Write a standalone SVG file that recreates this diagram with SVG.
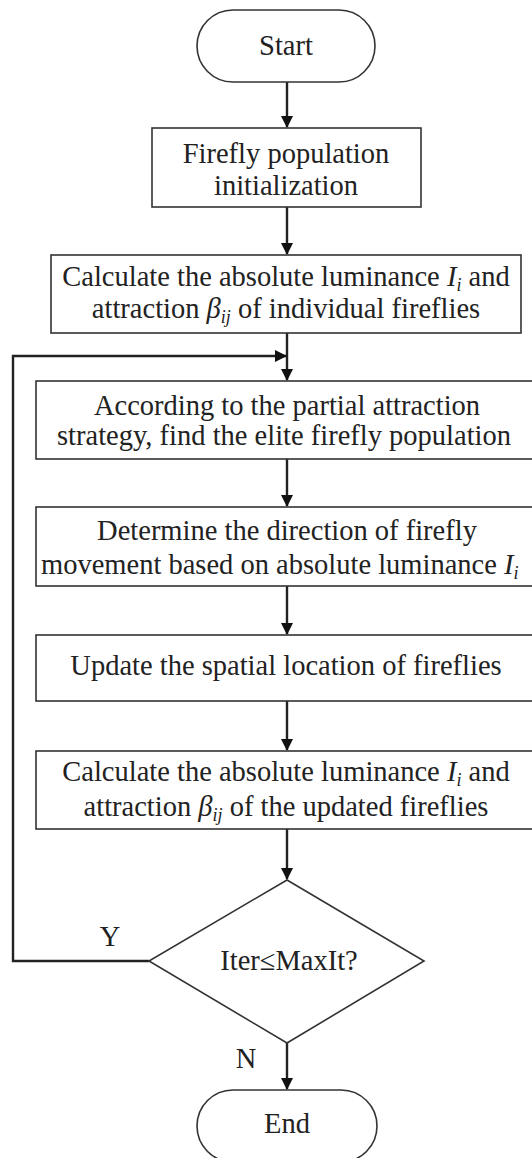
<svg xmlns="http://www.w3.org/2000/svg" width="532" height="1158" viewBox="0 0 532 1158">
<style>
.box{fill:#fff;stroke:#333;stroke-width:1.6}
text{font-family:'Liberation Serif','DejaVu Serif',serif}
.t{font-size:28.5px;fill:#222;text-anchor:middle}
.it{font-style:italic}
.sub{font-style:italic;font-size:18px}
.c{fill:none;stroke:#222;stroke-width:2.4}
</style>
<defs>
<marker id="ah" markerWidth="12" markerHeight="12" refX="11" refY="6" orient="auto" markerUnits="userSpaceOnUse">
<path d="M0,0 L12,6 L0,12 Z" fill="#111"/>
</marker>
</defs>
<rect width="532" height="1158" fill="#fff"/>
<g id="connectors">
<line class="c" x1="287" y1="82" x2="287" y2="127" marker-end="url(#ah)"/>
<line class="c" x1="287" y1="207" x2="287" y2="254" marker-end="url(#ah)"/>
<line class="c" x1="287" y1="333" x2="287" y2="380" marker-end="url(#ah)"/>
<polyline class="c" points="149,961 13,961 13,356 286,356" marker-end="url(#ah)"/>
<line class="c" x1="287" y1="459" x2="287" y2="506" marker-end="url(#ah)"/>
<line class="c" x1="287" y1="586" x2="287" y2="634" marker-end="url(#ah)"/>
<line class="c" x1="287" y1="701" x2="287" y2="750" marker-end="url(#ah)"/>
<line class="c" x1="287" y1="829" x2="287" y2="879" marker-end="url(#ah)"/>
<line class="c" x1="287" y1="1043" x2="287" y2="1089" marker-end="url(#ah)"/>
<text class="t" x="110" y="946" font-size="27">Y</text>
<text class="t" x="246" y="1068" font-size="27">N</text>
</g>
<g id="start">
<rect class="box" x="197" y="10" width="178" height="72" rx="36"/>
<text class="t" x="286" y="55">Start</text>
</g>
<g id="init">
<rect class="box" x="152" y="128" width="269" height="79"/>
<text class="t" x="286" y="163">Firefly population</text>
<text class="t" x="286" y="195">initialization</text>
</g>
<g id="calc1">
<rect class="box" x="51" y="255" width="470" height="78"/>
<text class="t" x="286" y="286">Calculate the absolute luminance <tspan class="it">I</tspan><tspan class="sub" dy="5">i</tspan><tspan dy="-5"> and</tspan></text>
<text class="t" x="286" y="318">attraction <tspan class="it">β</tspan><tspan class="sub" dy="5">ij</tspan><tspan dy="-5"> of individual fireflies</tspan></text>
</g>
<g id="elite">
<rect class="box" x="36" y="381" width="504" height="78"/>
<text class="t" x="287" y="415">According to the partial attraction</text>
<text class="t" x="284" y="445">strategy, find the elite firefly population</text>
</g>
<g id="direction">
<rect class="box" x="36" y="507" width="504" height="79"/>
<text class="t" x="287" y="540">Determine the direction of firefly</text>
<text class="t" x="41" y="574" style="text-anchor:start">movement based on absolute luminance  <tspan class="it">I</tspan><tspan class="sub" dy="5">i</tspan></text>
</g>
<g id="update">
<rect class="box" x="36" y="635" width="504" height="66"/>
<text class="t" x="286" y="675">Update the spatial location of fireflies</text>
</g>
<g id="calc2">
<rect class="box" x="36" y="751" width="504" height="78"/>
<text class="t" x="286" y="781">Calculate the absolute luminance <tspan class="it">I</tspan><tspan class="sub" dy="5">i</tspan><tspan dy="-5">  and</tspan></text>
<text class="t" x="286" y="816">attraction <tspan class="it">β</tspan><tspan class="sub" dy="5">ij</tspan><tspan dy="-5"> of the updated fireflies</tspan></text>
</g>
<g id="decision">
<polygon class="box" points="287,880 424,961 287,1043 149,961"/>
<text class="t" x="289" y="970">Iter≤MaxIt?</text>
</g>
<g id="end">
<rect class="box" x="197" y="1090" width="180" height="72" rx="36"/>
<text class="t" x="287" y="1133">End</text>
</g>
</svg>
